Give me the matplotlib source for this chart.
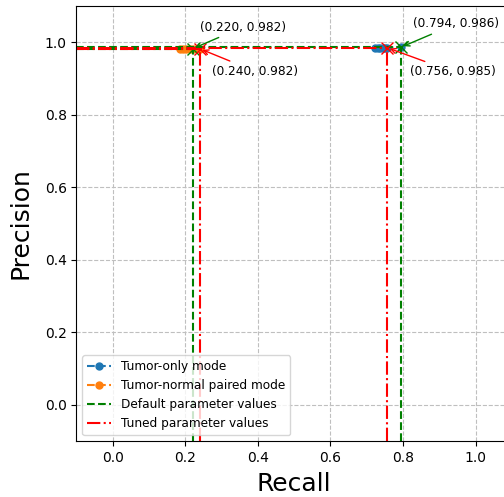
import matplotlib
matplotlib.use("Agg")
import matplotlib.pyplot as plt

# precision/recall curves
tumor_only_recall = [0.722, 0.730, 0.738, 0.745, 0.750, 0.756, 0.794]
tumor_only_precision = [0.985, 0.985, 0.985, 0.985, 0.985, 0.985, 0.986]
paired_recall = [0.186, 0.195, 0.203, 0.212, 0.220, 0.240]
paired_precision = [0.982, 0.982, 0.982, 0.982, 0.982, 0.982]

# selected operating points
default_points = [(0.220, 0.982), (0.794, 0.986)]
tuned_points = [(0.240, 0.982), (0.756, 0.985)]

fig = plt.figure(figsize=(5.04, 4.97), dpi=100)
ax = fig.add_axes([0.1516, 0.1127, 0.864, 0.8753])

ax.plot(tumor_only_recall, tumor_only_precision, '--o', color='C0',
        markersize=5, label='Tumor-only mode')
ax.plot(paired_recall, paired_precision, '--o', color='C1',
        markersize=5, label='Tumor-normal paired mode')

lo = -0.1
for i, (r, p) in enumerate(default_points):
    lab = 'Default parameter values' if i == 0 else None
    ax.plot([r, r], [lo, p], 'g--', label=lab)
    ax.plot([lo, r], [p, p], 'g--')
    ax.plot(r, p, 'gx', markersize=8)

for i, (r, p) in enumerate(tuned_points):
    lab = 'Tuned parameter values' if i == 0 else None
    ax.plot([r, r], [lo, p], 'r-.', label=lab)
    ax.plot([lo, r], [p, p], 'r-.')
    ax.plot(r, p, 'rx', markersize=8)

# annotations
offsets_default = [(0.02, 0.05), (0.033, 0.055)]
offsets_tuned = [(0.034, -0.072), (0.063, -0.076)]
for (r, p), (dx, dy) in zip(default_points, offsets_default):
    ax.annotate('(%.3f, %.3f)' % (r, p), xy=(r, p), xytext=(r + dx, p + dy),
                fontsize=8.7, arrowprops=dict(arrowstyle='->', color='green'))
for (r, p), (dx, dy) in zip(tuned_points, offsets_tuned):
    ax.annotate('(%.3f, %.3f)' % (r, p), xy=(r, p), xytext=(r + dx, p + dy),
                fontsize=8.7, arrowprops=dict(arrowstyle='->', color='red'))

ax.set_xlim(-0.1, 1.1)
ax.set_ylim(-0.1, 1.1)
ax.set_xticks([0.0, 0.2, 0.4, 0.6, 0.8, 1.0])
ax.set_yticks([0.0, 0.2, 0.4, 0.6, 0.8, 1.0])
ax.tick_params(labelsize=10)
ax.grid(True, linestyle='--', color='0.75')
ax.set_xlabel('Recall', fontsize=18, labelpad=5)
ax.set_ylabel('Precision', fontsize=18, labelpad=9)
ax.legend(loc='lower left', fontsize=8.7)

fig.savefig('out.png', dpi=100)
